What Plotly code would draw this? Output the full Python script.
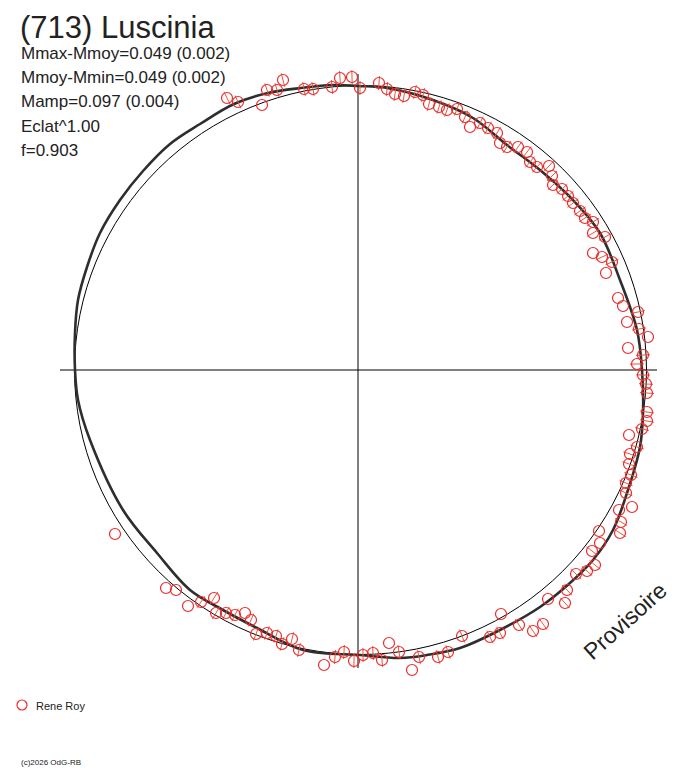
import numpy as np
import plotly.graph_objects as go

# Observations (Rene Roy), position in the polar light-curve frame
# x, y in arbitrary flux units, origin = centre of the diagram
obs_x = [-131, -120, -96, -91, -81, -75, -54, -45, -26, -18, -6, 2, 21, 29, 37, 46,
         57, 65, 71, 81, 89, 99, 107, 112, 122, 130, 139, 142, 149, 160, 169, 172,
         179, 191, 194, 195, 204, 210, 215, 222, 227, 235, 235, 247, 235, 244, 254, 248,
         260, 265, 280, 269, 281, 290, 270, 285, 279, 285, 288, 289, 289, 289, 284, 271,
         279, 272, 271, 273, 268, 268, 274, 261, 263, 262, 241, 242, 234, 237, 229, 218,
         209, 207, 190, 185, 175, 161, 143, 142, 132, 104, 90, 80, 61, 54, 41, 31,
         24, 15, 5, -4, -14, -23, -34, -59, -66, -76, -82, -91, -102, -107, -113, -123,
         -132, -142, -144, -157, -170, -182, -192, -243]
obs_y = [272, 268, 265, 280, 280, 290, 281, 281, 283, 292, 293, 282, 287, 281, 276, 274,
         278, 275, 266, 263, 260, 261, 253, 243, 247, 242, 237, 227, 223, 223, 218, 208,
         203, 204, 194, 185, 181, 174, 167, 159, 152, 148, 137, 133, 117, 113, 108, 97,
         72, 64, 58, 48, 41, 33, 22, 15, 6, -5, -14, -23, -42, -51, -59, -65,
         -77, -84, -94, -105, -113, -123, -137, -140, -152, -163, -161, -173, -181, -195, -201, -204,
         -220, -233, -229, -254, -261, -255, -244, -263, -267, -266, -282, -287, -287, -300, -282, -273,
         -290, -283, -285, -291, -282, -287, -295, -280, -269, -274, -266, -263, -264, -250, -243, -245,
         -243, -243, -228, -232, -236, -220, -218, -164]
# observations drawn without a radial error tick
no_bar = [2, 23, 27, 44, 47, 48, 49, 51, 53, 54, 63, 70, 71, 74, 75, 82, 86, 93, 95,
          102, 110, 116, 117, 118, 119]

# fitted light curve (thick line), clockwise from the top
fit_x = [0, 29, 75, 115, 149, 182, 215, 242, 262, 279, 284, 285, 282, 269, 255, 235,
         212, 182, 142, 102, 69, 42, 2, -55, -101, -135, -168, -201, -235, -268, -280, -283,
         -283, -280, -271, -258, -238, -215, -188, -158, -124, -90, -57, -25, 0]
fit_y = [284, 282, 270, 252, 225, 200, 170, 137, 90, 40, 0, -43, -77, -123, -160, -190,
         -213, -237, -260, -278, -285, -288, -285, -280, -258, -240, -220, -183, -140, -70, -30, 0,
         37, 70, 103, 137, 170, 199, 226, 246, 266, 277, 282, 285, 284]

# mean-level curve (thin line), slightly elliptical and off-centre
ref_cx, ref_cy = 2.5, 0
ref_ax, ref_ay = 286, 284.5
axis_len = 298

title = "(713) Luscinia"
stats = ["Mmax-Mmoy=0.049 (0.002)", "Mmoy-Mmin=0.049 (0.002)", "Mamp=0.097 (0.004)",
         "Eclat^1.00", "f=0.903"]
observer = "Rene Roy"
credit = "(c)2026 OdG-RB"
stamp = "Provisoire"

RED = "#ee2a2a"
INK = "#222222"
FONT = "Liberation Sans, Arial, sans-serif"

# the page body has an 8 px margin: the figure is 8 px smaller than the window
PAD = 8
W, H = 688 - PAD, 768 - PAD


def px(x):
    return (x - PAD) / W


def py(y):
    return (H - (y - PAD)) / H


ox, oy = np.array(obs_x, float), np.array(obs_y, float)
bar = np.ones(len(ox), bool)
bar[no_bar] = False
tick_angle = np.degrees(np.arctan2(ox, oy))

fig = go.Figure()
fig.add_trace(go.Scatter(
    x=fit_x, y=fit_y, mode="lines", line=dict(color="#2e2e2e", width=2.6, shape="spline"),
    hoverinfo="skip", showlegend=False,
))
fig.add_trace(go.Scatter(
    x=ox[bar], y=oy[bar], mode="markers", hoverinfo="skip", showlegend=False,
    marker=dict(symbol="line-ns-open", size=10, angle=tick_angle[bar],
                line=dict(color=RED, width=1)),
))
fig.add_trace(go.Scatter(
    x=ox, y=oy, mode="markers", name=observer, showlegend=False,
    marker=dict(symbol="circle-open", size=11, color=RED, line=dict(color=RED, width=1.2)),
))

shapes = [
    dict(type="line", x0=-axis_len, x1=axis_len + 1, y0=0, y1=0, layer="below",
         line=dict(color="black", width=1)),
    dict(type="line", x0=0, x1=0, y0=-axis_len, y1=axis_len - 2, layer="below",
         line=dict(color="black", width=1)),
    dict(type="circle", x0=ref_cx - ref_ax, x1=ref_cx + ref_ax, y0=ref_cy - ref_ay,
         y1=ref_cy + ref_ay, layer="below", line=dict(color="black", width=1)),
    # legend swatch
    dict(type="circle", xref="paper", yref="paper", x0=px(17), x1=px(27),
         y0=py(710), y1=py(700), line=dict(color=RED, width=1.2)),
]


def note(text, x, y, size, **kw):
    return dict(text=text, xref="paper", yref="paper", x=px(x), y=py(y),
                xanchor=kw.pop("xanchor", "left"), yanchor=kw.pop("yanchor", "middle"),
                showarrow=False, font=dict(family=FONT, size=size, color=INK), **kw)


# title box held just inside the top edge of the figure
annotations = [note(title, 18, PAD + 0.5, 31, yanchor="top")]
for i, s in enumerate(stats):
    annotations.append(note(s, 19, 53 + i * 24.4, 17))
annotations.append(note(observer, 34, 706, 11))
annotations.append(note(credit, 19, 762, 8))
annotations.append(note(stamp, 625, 621, 23, xanchor="center", textangle=-42))

# data centre at window pixel (358, 370), 1 unit = 1 px
fig.update_layout(
    width=W, height=H, margin=dict(l=0, r=0, t=0, b=0),
    paper_bgcolor="white", plot_bgcolor="white",
    xaxis=dict(range=[-330, 320], domain=[px(28), px(678)], visible=False),
    yaxis=dict(range=[-320, 330], domain=[py(690), py(40)], visible=False),
    shapes=shapes, annotations=annotations, showlegend=False,
)

fig.write_html("out.html")
